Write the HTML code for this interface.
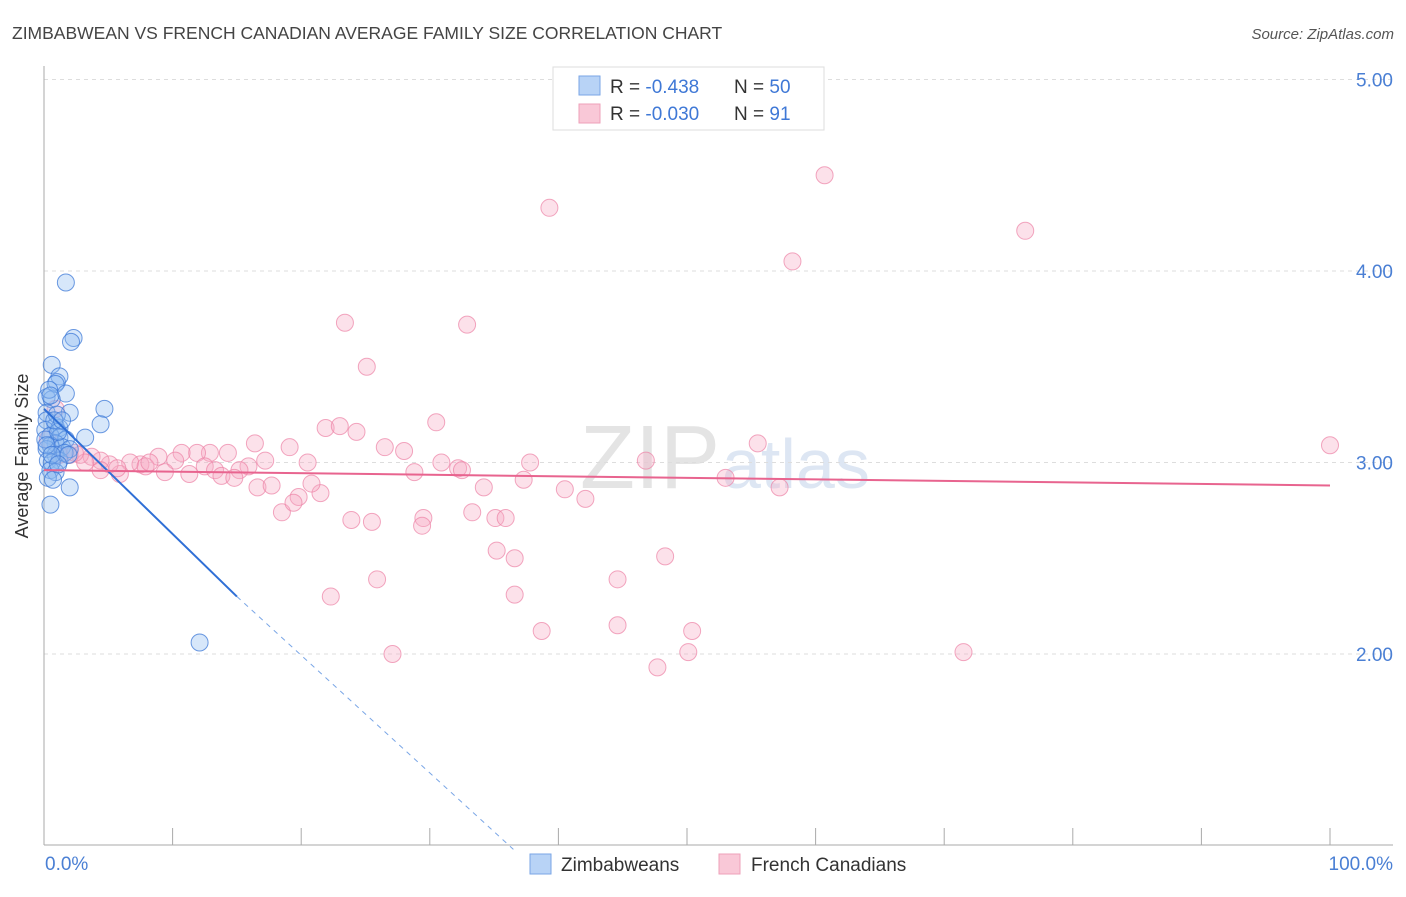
<!DOCTYPE html>
<html><head><meta charset="utf-8"><style>
body{margin:0;background:#fff;font-family:"Liberation Sans",sans-serif;}
svg text{font-family:"Liberation Sans",sans-serif;}
</style></head><body>
<svg width="1406" height="892" xmlns="http://www.w3.org/2000/svg" id="chart">
<text x="12" y="39" font-size="17.5" fill="#444">ZIMBABWEAN VS FRENCH CANADIAN AVERAGE FAMILY SIZE CORRELATION CHART</text>
<text x="1394" y="39" font-size="15" fill="#555" font-style="italic" text-anchor="end">Source: ZipAtlas.com</text>
<text x="720" y="488" font-size="90" fill="#e4e4e4" text-anchor="end" font-family="Liberation Serif">ZIP</text>
<text x="722" y="488" font-size="70" fill="#dde6f3">atlas</text>
<g id="grid"></g>
<g id="pts"></g>
<g id="trend"></g>
<text x="28" y="456" font-size="18" fill="#333" text-anchor="middle" transform="rotate(-90 28 456)">Average Family Size</text>
<text x="45" y="870" font-size="19" fill="#4a7fd4">0.0%</text>
<text x="1393" y="870" font-size="19" fill="#4a7fd4" text-anchor="end">100.0%</text>
<g>
<rect x="553" y="67" width="271" height="63" fill="#fff" stroke="#ddd"/>
<rect x="579" y="76" width="21" height="19" fill="#b8d3f6" stroke="#7aa6e6"/>
<rect x="579" y="104" width="21" height="19" fill="#f9c8d7" stroke="#eea0ba"/>
<text x="610" y="93" font-size="19" fill="#333">R = <tspan fill="#3f78d6">-0.438</tspan></text>
<text x="734" y="93" font-size="19" fill="#333">N = <tspan fill="#3f78d6">50</tspan></text>
<text x="610" y="120" font-size="19" fill="#333">R = <tspan fill="#3f78d6">-0.030</tspan></text>
<text x="734" y="120" font-size="19" fill="#333">N = <tspan fill="#3f78d6"> 91</tspan></text>
</g>
<g>
<rect x="530" y="854" width="21" height="20" fill="#b8d3f6" stroke="#7aa6e6"/>
<text x="561" y="871" font-size="19" fill="#333">Zimbabweans</text></g>
<g>
<rect x="719" y="854" width="21" height="20" fill="#f9c8d7" stroke="#eea0ba"/>
<text x="751" y="871" font-size="19" fill="#333">French Canadians</text></g>
</svg>
<script>
const yTicks=[2,3,4,5];
const yTickLabels=["2.00","3.00","4.00","5.00"];
const blueX=[1.7,2.3,2.1,0.6,1.2,1.0,0.9,1.7,0.2,0.6,4.7,2.0,4.4,0.2,0.2,0.9,1.2,0.1,0.5,1.2,3.2,1.7,0.9,0.5,1.4,2.0,0.2,0.9,0.3,1.2,0.6,0.5,0.9,0.3,0.7,2.0,0.5,12.1,0.1,1.1,1.6,0.2,0.6,1.0,0.4,0.8,1.4,1.9,0.5,1.1];
const blueY=[3.94,3.65,3.63,3.51,3.45,3.42,3.41,3.36,3.34,3.33,3.28,3.26,3.20,3.26,3.22,3.19,3.18,3.17,3.14,3.13,3.13,3.12,3.10,3.09,3.08,3.07,3.07,3.04,3.01,3.01,3.00,2.96,2.95,2.92,2.91,2.87,2.78,2.06,3.12,3.16,3.05,3.09,3.04,3.25,3.38,3.22,3.22,3.04,3.35,2.99];
const pinkX=[39.3,60.7,76.3,58.2,23.4,32.9,25.1,30.5,100,55.5,16.4,19.1,21.9,23.0,24.3,26.5,28.0,30.9,32.2,32.5,28.8,37.8,46.8,53.0,57.2,40.5,42.1,34.2,37.3,20.5,17.2,15.9,15.2,14.3,12.9,11.9,10.7,10.2,8.9,7.5,6.7,5.9,5.1,4.4,3.7,2.8,2.0,1.2,3.2,7.9,8.2,9.4,11.3,12.5,13.3,13.8,14.8,16.6,17.7,19.8,18.5,19.4,21.5,20.8,23.9,25.5,29.5,29.4,33.3,35.1,35.9,35.2,36.6,48.3,25.9,44.6,22.3,36.6,44.6,38.7,50.4,50.1,47.7,27.1,71.5,0.9,2.4,0.3,4.4,5.7];
const pinkY=[4.33,4.50,4.21,4.05,3.73,3.72,3.50,3.21,3.09,3.10,3.10,3.08,3.18,3.19,3.16,3.08,3.06,3.00,2.97,2.96,2.95,3.00,3.01,2.92,2.87,2.86,2.81,2.87,2.91,3.00,3.01,2.98,2.96,3.05,3.05,3.05,3.05,3.01,3.03,2.99,3.00,2.94,2.99,3.01,3.03,3.04,3.04,3.04,3.00,2.98,3.00,2.95,2.94,2.98,2.96,2.93,2.92,2.87,2.88,2.82,2.74,2.79,2.84,2.89,2.70,2.69,2.71,2.67,2.74,2.71,2.71,2.54,2.50,2.51,2.39,2.39,2.30,2.31,2.15,2.12,2.12,2.01,1.93,2.00,2.01,3.28,3.05,3.12,2.96,2.97];
const blueTrend=[[0,3.28],[15,2.30],[36.5,0.98]];
const pinkTrend=[[0,2.96],[100,2.88]];
const NS="http://www.w3.org/2000/svg";
const xs=v=>44+v*12.86;
const ys=v=>462.5-(v-3)*191.5;
function mk(t,a,p){const e=document.createElementNS(NS,t);for(const k in a)e.setAttribute(k,a[k]);p.appendChild(e);return e;}
const grid=document.getElementById('grid');
yTicks.forEach((v,i)=>{
 const l=mk('line',{x1:44,x2:1393,y1:ys(v),y2:ys(v),stroke:'#ddd','stroke-dasharray':'4,4'},grid);
 
 
 const t=mk('text',{x:1393,y:ys(v)+7,'font-size':19,fill:'#4a7fd4','text-anchor':'end'},grid);
 t.textContent=yTickLabels[i];
 
 
});
const ax=mk('line',{x1:44,x2:44,y1:66,y2:845,stroke:'#aaa'},grid);


const bx=mk('line',{x1:44,x2:1393,y1:845,y2:845,stroke:'#aaa'},grid);


for(let i=0;i<=10;i++){const tk=mk('line',{x1:xs(i*10),x2:xs(i*10),y1:828,y2:845,stroke:'#aaa'},grid);
 
 }
const pts=document.getElementById('pts');
pinkX.forEach((x,i)=>{const c=mk('circle',{cx:xs(x),cy:ys(pinkY[i]),r:8.5,fill:'rgba(246,170,196,0.35)',stroke:'rgba(236,130,165,0.7)','stroke-width':1},pts);
 
 });
blueX.forEach((x,i)=>{const c=mk('circle',{cx:xs(x),cy:ys(blueY[i]),r:8.5,fill:'rgba(140,185,240,0.35)',stroke:'rgba(60,120,215,0.75)','stroke-width':1},pts);
 
 });
const tr=document.getElementById('trend');
const b1=mk('line',{x1:xs(blueTrend[0][0]),y1:ys(blueTrend[0][1]),x2:xs(blueTrend[1][0]),y2:ys(blueTrend[1][1]),stroke:'#2f6fd6','stroke-width':2},tr);


const b2=mk('line',{x1:xs(blueTrend[1][0]),y1:ys(blueTrend[1][1]),x2:xs(blueTrend[2][0]),y2:ys(blueTrend[2][1]),stroke:'#7aa6e6','stroke-width':1,'stroke-dasharray':'5,5'},tr);


const p1=mk('line',{x1:xs(pinkTrend[0][0]),y1:ys(pinkTrend[0][1]),x2:xs(pinkTrend[1][0]),y2:ys(pinkTrend[1][1]),stroke:'#e8648f','stroke-width':2},tr);


</script>
</body></html>
